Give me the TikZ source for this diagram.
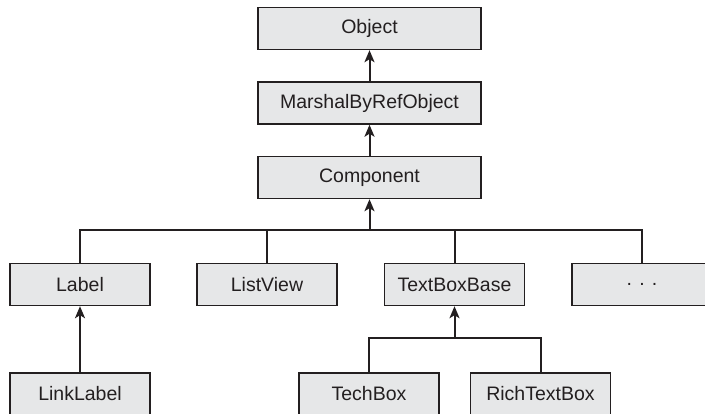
\documentclass[tikz,border=0pt]{standalone}
\usepackage{fontspec}
\setmainfont{Liberation Sans}
\usepackage{tikz}
\usetikzlibrary{arrows.meta}
\definecolor{boxfill}{HTML}{E6E7E8}
\definecolor{ink}{HTML}{231F20}

\begin{document}
\begin{tikzpicture}[x=1pt,y=-1pt,
  every node/.style={font=\fontsize{19.5}{22}\selectfont,text=ink},
  cls/.style={draw=ink,fill=boxfill,line width=1.4pt,minimum height=42pt,inner sep=0pt},
  wide/.style={cls,minimum width=223pt},
  narrow/.style={cls,minimum width=140pt},
  link/.style={draw=ink,line width=2pt},
  inherit/.style={link,-{Stealth[length=12pt,width=10pt,inset=3pt]}}]
\useasboundingbox (0,0) rectangle (705,413);
\node[wide] (obj) at (369.5,28.5) {Object};
\node[wide] (msh) at (369.5,103) {MarshalByRefObject};
\node[wide] (comp) at (369.5,177.5) {Component};
\node[narrow] (lbl) at (80,284.5) {Label};
\node[narrow] (lview) at (267,284.5) {ListView};
\node[narrow] (tbb) at (454.5,284.5) {TextBoxBase};
\node[narrow] (more) at (642,284.5) {. . .};
\node[narrow] (llbl) at (80,394) {LinkLabel};
\node[narrow] (tech) at (369,394) {TechBox};
\node[narrow] (rich) at (540.5,394) {RichTextBox};
\coordinate (bus) at (369.5,230);
\coordinate (tbus) at (454.5,338);
\draw[inherit] (msh) -- (obj);
\draw[inherit] (comp) -- (msh);
\draw[link] (lbl.north) |- (more.north |- bus) -- (more.north);
\draw[link] (lview.north) -- (lview.north |- bus);
\draw[link] (tbb.north) -- (tbb.north |- bus);
\draw[inherit] (bus) -- (comp);
\draw[inherit] (llbl) -- (lbl);
\draw[link] (tech.north) |- (rich.north |- tbus) -- (rich.north);
\draw[inherit] (tbus) -- (tbb);
\end{tikzpicture}
\end{document}
